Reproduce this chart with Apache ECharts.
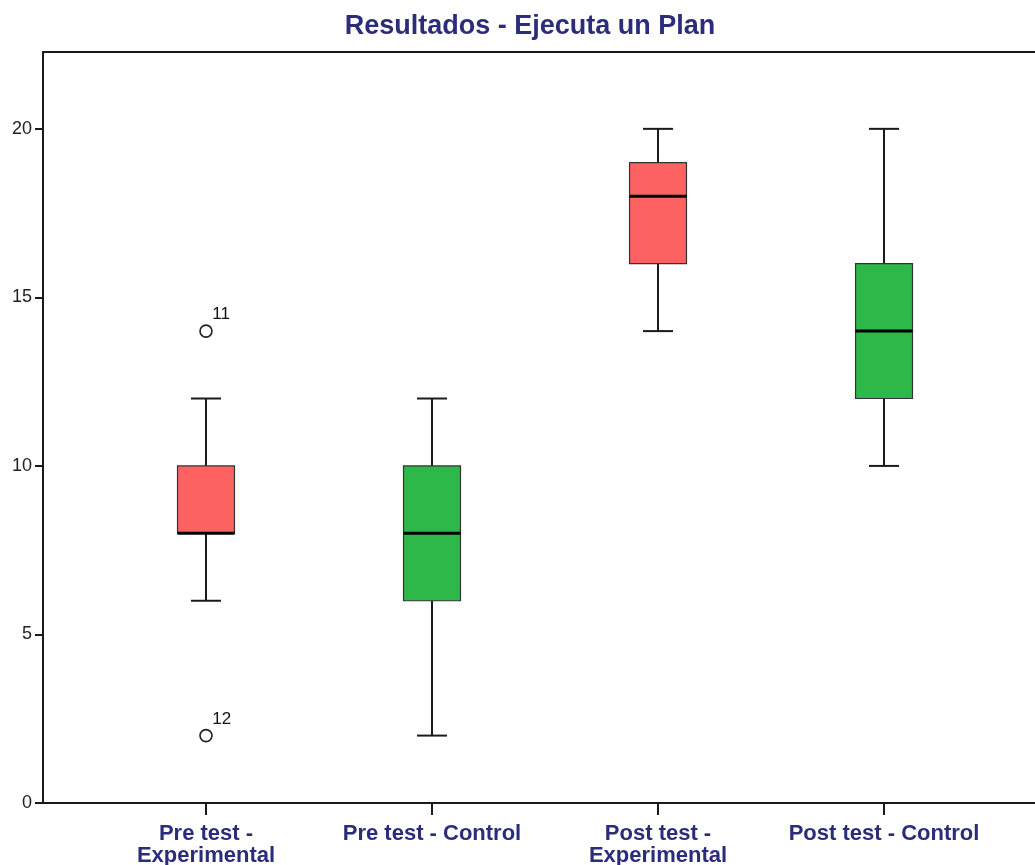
<!DOCTYPE html>
<html>
<head>
<meta charset="utf-8">
<script src="https://cdn.jsdelivr.net/npm/echarts@6/dist/echarts.min.js"></script>
<style>html,body{margin:0;padding:0;background:#fff}#chart{width:1035px;height:865px}</style>
</head>
<body>
<div id="chart"></div>
<script>
// ---- data ----
const categories = ['Pre test -\nExperimental', 'Pre test - Control', 'Post test -\nExperimental', 'Post test - Control'];
const mins    = [6, 2, 14, 10];
const q1s     = [8, 6, 16, 12];
const medians = [8, 8, 18, 14];
const q3s     = [10, 10, 19, 16];
const maxs    = [12, 12, 20, 20];
const outlierGroup = [0, 0];
const outlierValues = [14, 2];
const outlierIds = ['11', '12'];
const yTicks = [0, 5, 10, 15, 20];

// ---- style constants ----
const fills = ['#fd6262', '#2eb84a', '#fd6262', '#2eb84a'];
const BOX_W = 0.252;   // in x-axis units
const CAP_W = 0.133;
const NAVY = '#2b2d7a';
const FONT = '"Liberation Sans", Arial, sans-serif';

const boxData = categories.map((c, i) => [i + 1, mins[i], q1s[i], medians[i], q3s[i], maxs[i]]);
const outData = outlierValues.map((v, i) => ({ value: [outlierGroup[i] + 1, v], name: outlierIds[i] }));

function renderBox(params, api) {
  const x = api.value(0);
  const lo = api.coord([x, api.value(1)]);
  const q1 = api.coord([x, api.value(2)]);
  const md = api.coord([x, api.value(3)]);
  const q3 = api.coord([x, api.value(4)]);
  const hi = api.coord([x, api.value(5)]);
  const hb = api.size([BOX_W, 0])[0] / 2;
  const hc = api.size([CAP_W, 0])[0] / 2;
  const cx = lo[0];
  const ls = { stroke: '#1a1a1a', lineWidth: 2 };
  return {
    type: 'group',
    children: [
      { type: 'line', shape: { x1: cx, y1: lo[1], x2: cx, y2: q1[1] }, style: ls },
      { type: 'line', shape: { x1: cx, y1: q3[1], x2: cx, y2: hi[1] }, style: ls },
      { type: 'line', shape: { x1: cx - hc, y1: lo[1], x2: cx + hc, y2: lo[1] }, style: ls },
      { type: 'line', shape: { x1: cx - hc, y1: hi[1], x2: cx + hc, y2: hi[1] }, style: ls },
      { type: 'rect', shape: { x: cx - hb, y: q3[1], width: hb * 2, height: q1[1] - q3[1] },
        style: { fill: fills[params.dataIndex], stroke: '#333', lineWidth: 1.2 } },
      { type: 'line', shape: { x1: cx - hb, y1: md[1], x2: cx + hb, y2: md[1] }, style: { stroke: '#000', lineWidth: 3 } }
    ]
  };
}

const chart = echarts.init(document.getElementById('chart'), null, { renderer: 'canvas' });
chart.setOption({
  animation: false,
  backgroundColor: '#fff',
  title: {
    text: 'Resultados - Ejecuta un Plan',
    left: 525, top: 8, textAlign: 'center',
    textStyle: { fontFamily: FONT, fontSize: 27, fontWeight: 'bold', color: NAVY }
  },
  grid: { left: 43, right: 0, top: 52, bottom: 62, containLabel: false, outerBoundsMode: 'none' },
  xAxis: [{
    type: 'value', min: 0.2788, max: 4.668, position: 'bottom',
    splitLine: { show: false },
    axisLine: { show: true, onZero: false, lineStyle: { color: '#1a1a1a', width: 2 } },
    axisTick: { show: true, customValues: [1, 2, 3, 4], length: 12, lineStyle: { color: '#1a1a1a', width: 2 } },
    axisLabel: {
      customValues: [1, 2, 3, 4],
      formatter: v => categories[Math.round(v) - 1] || '',
      fontFamily: FONT, fontSize: 22, fontWeight: 'bold', color: NAVY, lineHeight: 22, margin: 20
    }
  }, {
    type: 'value', min: 0.2788, max: 4.668, position: 'top',
    splitLine: { show: false },
    axisLine: { show: true, onZero: false, lineStyle: { color: '#1a1a1a', width: 2 } },
    axisTick: { show: false }, axisLabel: { show: false }
  }],
  yAxis: {
    type: 'value', min: 0, max: 22.28,
    splitLine: { show: false },
    axisLine: { show: true, onZero: false, lineStyle: { color: '#1a1a1a', width: 2 } },
    axisTick: { show: true, customValues: yTicks, length: 8, lineStyle: { color: '#1a1a1a', width: 2 } },
    axisLabel: {
      customValues: yTicks,
      fontFamily: FONT, fontSize: 18, color: '#222', margin: 11
    }
  },
  series: [{
    type: 'custom',
    renderItem: renderBox,
    data: boxData,
    encode: { x: 0, y: [1, 2, 3, 4, 5] },
    clip: false
  }, {
    type: 'scatter',
    data: outData,
    symbol: 'circle', symbolSize: 12,
    itemStyle: { color: '#fff', borderColor: '#222', borderWidth: 1.6, opacity: 1 },
    label: {
      show: true, formatter: p => p.name, position: [13, -18],
      fontFamily: FONT, fontSize: 17, color: '#111', align: 'left', verticalAlign: 'top'
    },
    emphasis: { disabled: true }
  }]
});
</script>
</body>
</html>
